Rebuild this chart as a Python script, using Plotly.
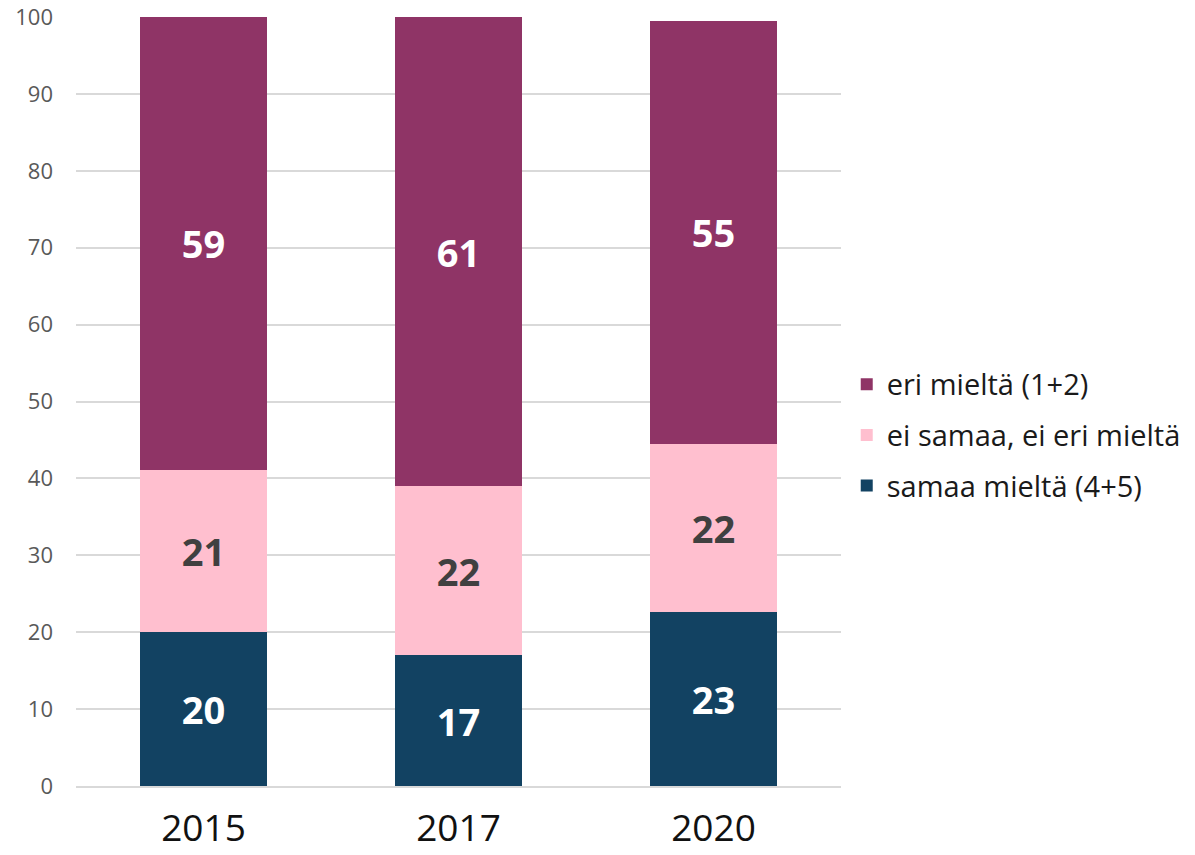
import plotly.graph_objects as go

years = ["2015", "2017", "2020"]
samaa = [20.0, 17.0, 22.6]
ei_kumpaakaan = [21.1, 22.0, 21.9]
eri = [58.9, 61.0, 55.0]
y_ticks = [0, 10, 20, 30, 40, 50, 60, 70, 80, 90, 100]

series = [
    ("samaa mieltä (4+5)", samaa, "#124262", "white", 3),
    ("ei samaa, ei eri mieltä", ei_kumpaakaan, "#FFBFCF", "#404040", 2),
    ("eri mieltä (1+2)", eri, "#8F3466", "white", 1),
]

FONT = "Open Sans"

fig = go.Figure()
for name, vals, col, tcol, rank in series:
    fig.add_trace(go.Bar(
        x=years, y=vals, name=name, legendgroup=name, legendrank=rank,
        marker=dict(color=col, line=dict(width=0)),
        text=[f"{round(v)}" for v in vals],
        textposition="inside", insidetextanchor="middle", textangle=0,
        constraintext="none",
        textfont=dict(family=FONT, size=38, color=tcol, weight="bold"),
        hoverinfo="skip",
    ))

fig.update_layout(
    barmode="stack", bargap=0.5,
    width=1195, height=855,
    margin=dict(l=76, r=354, t=17, b=69, autoexpand=False),
    plot_bgcolor="white", paper_bgcolor="white",
    font=dict(family=FONT),
    legend=dict(
        traceorder="grouped", x=1.0075, xanchor="left", y=0.456, yanchor="middle",
        font=dict(family=FONT, size=29, color="#1a1a1a"),
        itemwidth=30, tracegroupgap=10,
    ),
    xaxis=dict(
        tickfont=dict(family=FONT, size=37, color="#111111"),
        showline=True, linecolor="#d9d9d9", linewidth=1.5,
        ticks="", ticklabelstandoff=9, automargin=False,
        ticklabeloverflow="allow",
    ),
    yaxis=dict(
        range=[0, 100], tickvals=y_ticks,
        tickfont=dict(family=FONT, size=22, color="#595959"),
        gridcolor="#d9d9d9", gridwidth=1.5, zeroline=False,
        ticks="", ticklabelstandoff=22, automargin=False,
        ticklabeloverflow="allow",
    ),
)

fig.write_html(
    "out.html",
    config={"displayModeBar": False},
    post_script="document.body.style.margin='0';document.body.style.overflow='hidden';",
)
